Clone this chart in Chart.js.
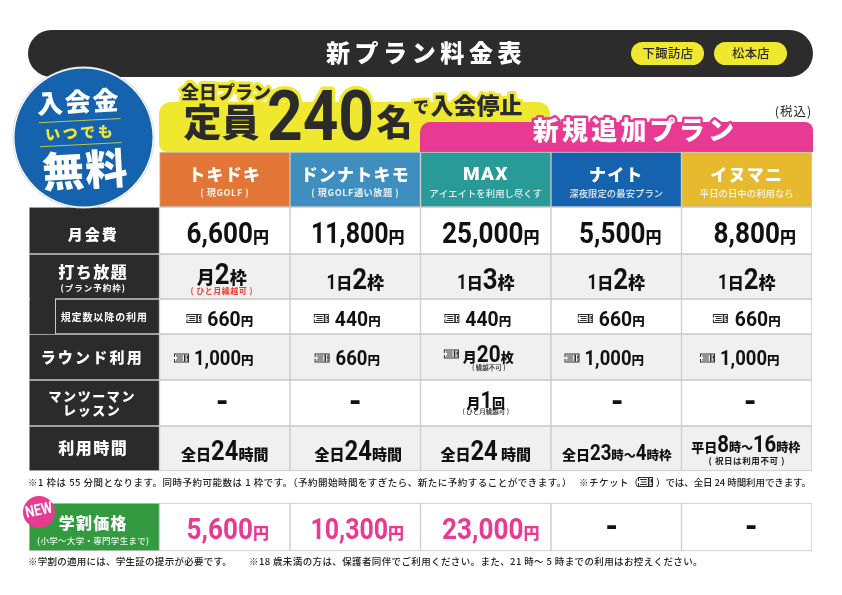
<!DOCTYPE html>
<html lang="ja">
<head>
<meta charset="utf-8">
<title>新プラン料金表</title>
<style>
  html, body { margin: 0; padding: 0; background: #fff; }
  #plan-table { display: block; }
</style>
<script src="https://cdn.jsdelivr.net/npm/chart.js@4/dist/chart.umd.min.js"></script>
</head>
<body>
<canvas id="plan-table" width="842" height="595"></canvas>
<script>
// data read from the sheet
const planNames = ['トキドキ', 'ドンナトキモ', 'MAX', 'ナイト', 'イヌマニ'];
const planNotes = ['( 現GOLF )', '( 現GOLF通い放題 )', 'アイエイトを利用し尽くす', '深夜限定の最安プラン', '平日の日中の利用なら'];
const monthlyFee = [6600, 11800, 25000, 5500, 8800];
const slotPeriod = ['月', '1日', '1日', '1日', '1日'];
const slotCount = [2, 2, 3, 2, 2];
const extraFee = [660, 440, 440, 660, 660];
const roundFee = [1000, 660, null, 1000, 1000];
const roundTickets = 20;
const lessonCount = [null, null, 1, null, null];
const studentFee = [5600, 10300, 23000, null, null];
const storeNames = ['下諏訪店', '松本店'];

// layout, all in page pixels
const rowEdges = { head: [152, 207], fee: [207, 254], slot: [254, 299], extra: [299, 334], round: [334, 380], lesson: [380, 426], hours: [426, 471], student: [503, 551] };
const planColors = ['#e27636', '#3e8fbf', '#289a97', '#1562ae', '#e6b92e'];
const DARK = '#2b2b2b', YELLOW = '#efe82f', PINK = '#e83a92', GRID = '#c9c9c9', SHADE = '#f0f0f0';
const JP = '"Noto Sans CJK JP"', NUM = 'Roboto';

function cellRow(edges, labelColor, fill) {
  return {
    data: [edges].concat(planNames.map(() => edges)),
    backgroundColor: [labelColor].concat(planNames.map(() => fill)),
    borderColor: GRID,
    borderWidth: 1,
    borderSkipped: false
  };
}

function put(ctx, text, x, y, font, color, o) {
  o = o || {};
  ctx.save();
  ctx.font = font;
  ctx.letterSpacing = (o.spacing || 0) + 'px';
  ctx.textAlign = o.align || 'center';
  ctx.textBaseline = 'middle';
  if (o.stroke) {
    ctx.strokeStyle = o.stroke;
    ctx.lineWidth = o.strokeWidth || 4;
    ctx.lineJoin = 'round';
    ctx.strokeText(text, x, y);
  }
  ctx.fillStyle = color;
  ctx.fillText(text, x, y);
  ctx.restore();
}

// stretch a note line so it spans the given width
function fitLine(ctx, text, x, y, width) {
  ctx.save();
  ctx.font = '500 9.5px ' + JP;
  ctx.letterSpacing = '0px';
  const spacing = (width - ctx.measureText(text).width) / text.length;
  ctx.letterSpacing = spacing + 'px';
  ctx.textAlign = 'left';
  ctx.textBaseline = 'middle';
  ctx.fillStyle = '#222';
  ctx.fillText(text, x, y);
  ctx.restore();
}

function ticket(ctx, x, y, w, h) {
  const top = y - h / 2;
  ctx.save();
  ctx.fillStyle = '#2b2b2b';
  ctx.fillRect(x, top, w, h);
  ctx.fillStyle = '#fff';
  ctx.fillRect(x + 1, top + 1, w - 2, h - 2);
  ctx.fillStyle = '#2b2b2b';
  ctx.fillRect(x + 2, top + 2, w * 0.46, 1);
  ctx.fillRect(x + 3, y - 0.5, w * 0.38, 1);
  ctx.fillRect(x + 2, top + h - 3, w * 0.46, 1);
  ctx.fillRect(x + w * 0.66, top + 1, 1.6, h - 2);
  ctx.fillRect(x + w * 0.84, top + 2, 1.4, h * 0.36);
  ctx.fillRect(x + w * 0.84, top + h - 3, 1.4, 1.2);
  ctx.fillStyle = '#fff';
  ctx.fillRect(x - 0.5, y - 1, 1.5, 2);
  ctx.restore();
}

const d = (t, s, sx) => ({ t, font: '700 ' + s + 'px ' + NUM, s, sx: sx || 0.92 });
const j = (t, s) => ({ t, font: '900 ' + s + 'px ' + JP, s, sx: 1 });
const tk = gap => ({ icon: true, w: 15, gap: gap || 5 });
const yen = (n, big, small, sx) => [d(n.toLocaleString('en-US'), big, sx), j('円', small)];

// one line of mixed sizes on a shared baseline, centred on cx
function runs(ctx, cx, y, parts, color) {
  ctx.save();
  let total = 0;
  let big = 0;
  parts.forEach(p => {
    if (p.icon) { total += p.w + p.gap; return; }
    ctx.font = p.font;
    p.width = ctx.measureText(p.t).width * p.sx;
    total += p.width;
    big = Math.max(big, p.s);
  });
  const base = y + big * 0.355;
  let x = cx - total / 2;
  ctx.textAlign = 'left';
  ctx.textBaseline = 'alphabetic';
  ctx.fillStyle = color || '#111';
  parts.forEach(p => {
    if (p.icon) { ticket(ctx, x, y, p.w, 9); x += p.w + p.gap; return; }
    ctx.save();
    ctx.font = p.font;
    ctx.translate(x, base);
    ctx.scale(p.sx, 1);
    ctx.fillText(p.t, 0, 0);
    ctx.restore();
    x += p.width;
  });
  ctx.restore();
}

function drawBanners(ctx) {
  ctx.fillStyle = '#2c2c2c';
  ctx.beginPath(); ctx.roundRect(28, 30, 785, 47, 23.5); ctx.fill();
  ctx.fillStyle = YELLOW;
  ctx.beginPath(); ctx.roundRect(631, 42, 73, 23, 11.5); ctx.fill();
  ctx.beginPath(); ctx.roundRect(714, 42, 73, 23, 11.5); ctx.fill();
  ctx.beginPath(); ctx.roundRect(159, 102, 391, 50, [12, 12, 0, 8]); ctx.fill();
  ctx.fillStyle = PINK;
  ctx.beginPath(); ctx.roundRect(420, 122, 393, 30, [10, 8, 0, 0]); ctx.fill();
}

function drawHeadline(ctx) {
  put(ctx, '新プラン料金表', 426, 53, '900 24px ' + JP, '#fff', { spacing: 4.6 });
  put(ctx, storeNames[0], 668, 53.5, '500 12.3px ' + JP, DARK, { spacing: 0.4 });
  put(ctx, storeNames[1], 751, 53.5, '500 12.3px ' + JP, DARK, { spacing: 0.4 });

  const ring = { stroke: YELLOW, strokeWidth: 6 };
  put(ctx, '全日プラン', 226, 92, '900 18px ' + JP, DARK, ring);
  put(ctx, '定員', 221.5, 122, '900 38px ' + JP, DARK, ring);
  ctx.save();
  ctx.translate(320.5, 122);
  ctx.scale(0.89, 1);
  put(ctx, '240', 0, 0, '700 70px ' + NUM, DARK, { stroke: YELLOW, strokeWidth: 7 });
  ctx.restore();
  put(ctx, '名', 394.5, 122, '900 36px ' + JP, DARK, ring);
  put(ctx, 'で', 421, 107, '900 16px ' + JP, DARK, ring);
  put(ctx, '入会停止', 476.5, 105, '900 23px ' + JP, DARK, ring);
  put(ctx, '新規追加プラン', 635, 130, '900 26px ' + JP, '#fff', { spacing: 3.2, stroke: PINK, strokeWidth: 5 });
  put(ctx, '(税込)', 793.5, 111, '400 12.5px ' + JP, '#222', { spacing: 1 });
}

function drawBadge(ctx) {
  ctx.save();
  ctx.beginPath(); ctx.arc(83.5, 137.5, 71, 0, Math.PI * 2);
  ctx.fillStyle = '#d5d5d5'; ctx.fill();
  ctx.beginPath(); ctx.arc(83.5, 137.5, 70.2, 0, Math.PI * 2);
  ctx.fillStyle = '#fff'; ctx.fill();
  ctx.beginPath(); ctx.arc(83.5, 137.5, 69, 0, Math.PI * 2);
  ctx.fillStyle = '#1562ae'; ctx.fill();
  ctx.translate(83.5, 137.5);
  ctx.rotate(-3 * Math.PI / 180);
  put(ctx, '入会金', -3, -36, '900 26px ' + JP, '#fff', { spacing: 2 });
  ctx.strokeStyle = '#b9c84a';
  ctx.lineWidth = 1;
  ctx.beginPath(); ctx.moveTo(-44, -17); ctx.lineTo(38, -17); ctx.stroke();
  ctx.beginPath(); ctx.moveTo(-44, 7); ctx.lineTo(38, 7); ctx.stroke();
  put(ctx, 'いつでも', -3, -5, '900 15px ' + JP, '#efe82f', { spacing: 2.5 });
  put(ctx, '無料', 0, 32, '900 42px ' + JP, '#fff', { spacing: 1 });
  ctx.restore();
}

const tablePlugin = {
  id: 'tablePlugin',
  beforeDatasetsDraw(chart) { drawBanners(chart.ctx); },
  afterDatasetsDraw(chart) {
    const ctx = chart.ctx;
    const xs = chart.scales.x, ys = chart.scales.y;
    const col = i => xs.getPixelForValue(i + 1);
    const labelX = xs.getPixelForValue(0);
    const rowY = k => ys.getPixelForValue((rowEdges[k][0] + rowEdges[k][1]) / 2);

    // the extra-fee row hangs off the slot row in the label column
    ctx.fillStyle = DARK;
    ctx.fillRect(30, 292, 25, 42);
    ctx.fillStyle = GRID;
    ctx.fillRect(55, 299, 1, 35);

    drawHeadline(ctx);
    drawBadge(ctx);

    const white = '#fff';
    planNames.forEach((name, i) => {
      put(ctx, name, col(i), 175, name === 'MAX' ? '900 19px ' + NUM : '900 17px ' + JP, white, { spacing: 1.2 });
      put(ctx, planNotes[i], col(i), 193, (i < 2 ? '700 9.2px ' : '500 9.3px ') + JP, 'rgba(255,255,255,0.88)', { spacing: i < 2 ? 0.5 : 0.1 });
    });

    // row labels
    put(ctx, '月会費', labelX - 1, 234, '900 15px ' + JP, white, { spacing: 2 });
    put(ctx, '打ち放題', labelX - 1, 272, '900 16px ' + JP, white, { spacing: 1.5 });
    put(ctx, '(プラン予約枠)', labelX - 1, 288, '700 8.5px ' + JP, white, { spacing: 1 });
    put(ctx, '規定数以降の利用', labelX + 10, 317, '700 10px ' + JP, white, { spacing: 0.9 });
    put(ctx, 'ラウンド利用', labelX - 2, 357, '900 15px ' + JP, white, { spacing: 2.2 });
    put(ctx, 'マンツーマン', labelX - 2, 396, '900 13px ' + JP, white, { spacing: 1.6 });
    put(ctx, 'レッスン', labelX - 2, 410, '900 13px ' + JP, white, { spacing: 1.6 });
    put(ctx, '利用時間', labelX - 1, 448, '900 16px ' + JP, white, { spacing: 1.5 });

    const feeShift = [3, 2.5, 5, 4, 8];
    monthlyFee.forEach((v, i) => runs(ctx, col(i) + feeShift[i], rowY('fee') + 2.5, yen(v, 29, 16, i === 1 ? 0.86 : 0.9)));

    slotCount.forEach((n, i) => {
      const first = i === 0;
      const parts = [first ? j(slotPeriod[i], 18) : d('1', 20, 0.85), first ? null : j('日', 16), d(String(n), 30, 0.86), j('枠', 17)].filter(Boolean);
      runs(ctx, col(i) + (first ? -3 : 0), first ? 273 : 278, parts);
    });
    put(ctx, '( ひと月繰越可 )', col(0) - 3, 291, '700 8px ' + JP, '#e8402e', { spacing: 0.5 });

    const extraShift = [-5, -8, -8, -5, 0];
    extraFee.forEach((v, i) => {
      runs(ctx, col(i) + extraShift[i], rowY('extra') + 2, [tk(i === 4 ? 7 : 6)].concat(yen(v, 21, 12.5)));
    });

    const roundShift = [-11, -8, -7, -12, -7];
    roundFee.forEach((v, i) => {
      if (v === null) {
        runs(ctx, col(i) + roundShift[i], 354, [tk(4), j('月', 14), d(String(roundTickets), 23, 0.9), j('枚', 13)]);
        put(ctx, '( 繰越不可 )', col(i) + 3, 368, '500 6.5px ' + JP, '#222');
      } else {
        runs(ctx, col(i) + roundShift[i], rowY('round') + 1, [tk(i === 1 ? 6 : 5)].concat(yen(v, 21, 12.5, 0.88)));
      }
    });

    const dashShift = [-2.5, 0, 0, 1, 3.5];
    lessonCount.forEach((v, i) => {
      if (v === null) {
        put(ctx, '-', col(i) + dashShift[i], 403, '900 30px ' + NUM, '#111');
      } else {
        runs(ctx, col(i), 399, [j('月', 14), d(String(v), 24, 0.85), j('回', 13)]);
        put(ctx, '( ひと月繰越可 )', col(i), 412, '500 6.5px ' + JP, '#222');
      }
    });

    [0, 1, 2].forEach(i => {
      runs(ctx, col(i) + [0, 3, 0][i], 450, [j('全日', 15), d('24', 28, 0.85), j(i === 2 ? ' 時間' : '時間', 15)]);
    });
    runs(ctx, col(3) + 0.5, 452, [j('全日', 14), d('23', 22, 0.85), j('時', 12.5), j('～', 12), d('4', 22, 0.85), j('時枠', 12.5)]);
    runs(ctx, col(4) - 1, 443, [j('平日', 13), d('8', 24, 0.85), j('時', 12), j('～', 12), d('16', 24, 0.85), j('時枠', 12)]);
    put(ctx, '( 祝日は利用不可 )', col(4), 461, '700 8.5px ' + JP, '#222', { spacing: 0.6 });

    fitLine(ctx, '※1 枠は 55 分間となります。同時予約可能数は 1 枠です。（予約開始時間をすぎたら、新たに予約することができます。）', 28, 482, 544);
    fitLine(ctx, '※チケット（', 579, 482, 60);
    ticket(ctx, 638, 482, 15, 10);
    fitLine(ctx, '）では、全日 24 時間利用できます。', 656, 482, 155);

    const studentDash = [0, 0, 0, -4.5, 4.5];
    studentFee.forEach((v, i) => {
      if (v === null) {
        put(ctx, '-', col(i) + studentDash[i], 528, '900 30px ' + NUM, '#111');
      } else {
        runs(ctx, col(i) + [3, 2, 5][i], 529, yen(v, 29, 16, i === 1 ? 0.86 : 0.9), PINK);
      }
    });

    put(ctx, '学割価格', labelX - 1, 523, '900 16px ' + JP, white, { spacing: 1.3 });
    put(ctx, '(小学～大学・専門学生まで)', labelX - 1, 541, '500 8.5px ' + JP, 'rgba(255,255,255,0.9)', { spacing: 0.3 });
    ctx.save();
    ctx.beginPath(); ctx.arc(39, 512, 16, 0, Math.PI * 2);
    ctx.fillStyle = PINK; ctx.fill();
    ctx.translate(39, 511);
    ctx.rotate(-12 * Math.PI / 180);
    ctx.scale(0.8, 1);
    put(ctx, 'NEW', 0, 0, '700 16px ' + NUM, '#fff');
    ctx.restore();

    fitLine(ctx, '※学割の適用には、学生証の提示が必要です。', 28, 561, 204);
    fitLine(ctx, '※18 歳未満の方は、保護者同伴でご利用ください。また、21 時～ 5 時までの利用はお控えください。', 249, 561, 454);
  }
};

const tableChart = new Chart(document.getElementById('plan-table').getContext('2d'), {
  type: 'bar',
  data: {
    labels: [''].concat(planNames),
    datasets: [
      { data: [null].concat(planNames.map(() => rowEdges.head)), backgroundColor: ['#fff'].concat(planColors), borderColor: GRID, borderWidth: 1, borderSkipped: false },
      cellRow(rowEdges.fee, DARK, '#fff'),
      cellRow(rowEdges.slot, DARK, SHADE),
      cellRow(rowEdges.extra, DARK, '#fff'),
      cellRow(rowEdges.round, DARK, SHADE),
      cellRow(rowEdges.lesson, DARK, '#fff'),
      cellRow(rowEdges.hours, DARK, SHADE),
      cellRow(rowEdges.student, '#349a3f', '#fff')
    ]
  },
  options: {
    responsive: false,
    animation: false,
    devicePixelRatio: 1,
    events: [],
    layout: { padding: { left: 29, right: 30, top: 0, bottom: 0 } },
    datasets: { bar: { categoryPercentage: 1, barPercentage: 1, grouped: false } },
    plugins: { legend: { display: false }, tooltip: { enabled: false }, title: { display: false } },
    scales: {
      x: { display: false, grid: { display: false } },
      y: { display: false, min: 0, max: 595, reverse: true, grid: { display: false } }
    }
  },
  plugins: [tablePlugin]
});
</script>
</body>
</html>
